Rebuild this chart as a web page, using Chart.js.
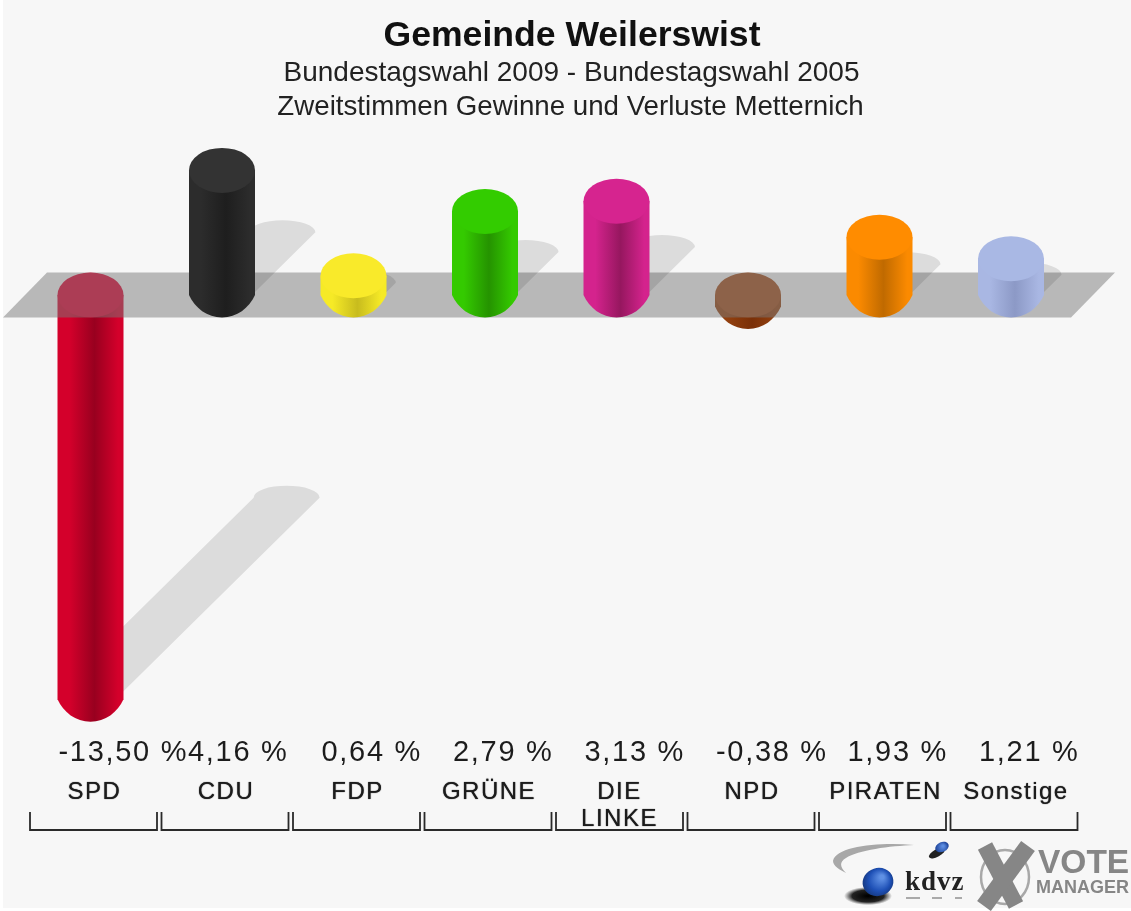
<!DOCTYPE html>
<html><head><meta charset="utf-8">
<style>html,body{margin:0;padding:0;background:#fff}#w{position:absolute;left:0;top:0;width:1131px;height:911px;filter:blur(0.6px)}canvas{display:block}</style>
<script src="https://cdn.jsdelivr.net/npm/chart.js@4/dist/chart.umd.min.js"></script>
</head><body><div id="w"><canvas id="c" width="1131" height="911"></canvas></div>
<script>
const categories=['SPD','CDU','FDP','GRÜNE','DIE LINKE','NPD','PIRATEN','Sonstige'];
const categoryLines=[['SPD'],['CDU'],['FDP'],['GRÜNE'],['DIE','LINKE'],['NPD'],['PIRATEN'],['Sonstige']];
const values=[-13.50,4.16,0.64,2.79,3.13,-0.38,1.93,1.21];
const valueLabels=['-13,50 %','4,16 %','0,64 %','2,79 %','3,13 %','-0,38 %','1,93 %','1,21 %'];
const bodyColors=['#d4002b','#2c2c2c','#f6ea26','#34ca00','#d4238d','#93400f','#fb8a00','#a9b7e3'];
const darkColors=['#98001f','#1e1e1e','#c8bc1e','#259300','#96175f','#7a3008','#c06a00','#8c99c6'];
const capColors=['#de0030','#333333','#f9ea2a','#33cc00','#d6248f','#a04a18','#ff8c00','#a9b8e4'];
const titleLines=['Gemeinde Weilerswist','Bundestagswahl 2009 - Bundestagswahl 2005','Zweitstimmen Gewinne und Verluste Metternich'];

const RY=22.5;
function txt(ctx,s,x,y,font,color,align,ls,heavy){
  ctx.save();
  ctx.font=font;ctx.fillStyle=color;ctx.textAlign=align;ctx.textBaseline='middle';
  ctx.letterSpacing=(ls||0)+'px';
  if(heavy){ctx.shadowColor=color;ctx.shadowBlur=heavy;}
  ctx.fillText(s,x,y);
  ctx.restore();
}
function bodyGrad(ctx,x,w,i){
  const g=ctx.createLinearGradient(x-w/2,0,x+w/2,0);
  g.addColorStop(0,bodyColors[i]);g.addColorStop(.18,bodyColors[i]);
  g.addColorStop(.56,darkColors[i]);g.addColorStop(.92,bodyColors[i]);g.addColorStop(1,bodyColors[i]);
  return g;
}
function body(ctx,x,w,top,bot,i){
  const r=w/2;
  ctx.beginPath();ctx.moveTo(x-r,top);ctx.lineTo(x-r,bot);
  ctx.bezierCurveTo(x-r*.82,bot+RY*.58,x-r*.45,bot+RY,x,bot+RY);
  ctx.bezierCurveTo(x+r*.45,bot+RY,x+r*.82,bot+RY*.58,x+r,bot);
  ctx.lineTo(x+r,top);ctx.closePath();
  ctx.fillStyle=bodyGrad(ctx,x,w,i);ctx.fill();
}
function cap(ctx,x,w,y,i){
  ctx.beginPath();ctx.ellipse(x,y,w/2,RY,0,0,Math.PI*2);ctx.fillStyle=capColors[i];ctx.fill();
}
function shadow(ctx,x,w,y0,h){
  const r=w/2,dx=h*.485,dy=-h*.479;
  ctx.beginPath();ctx.moveTo(x-r,y0);ctx.lineTo(x-r+dx,y0+dy);
  ctx.ellipse(x+dx,y0+dy,r,12,0,Math.PI,Math.PI*2,false);
  ctx.lineTo(x+r,y0);ctx.closePath();
  ctx.fillStyle='rgba(0,0,0,0.105)';ctx.fill();
}
function logos(ctx){
  ctx.beginPath();ctx.moveTo(914,845);ctx.bezierCurveTo(880,842,836,846,833,861);
  ctx.bezierCurveTo(833,866,840,870,846,873);ctx.bezierCurveTo(840,867,839,862,846,858);
  ctx.bezierCurveTo(858,850,890,846,914,845);ctx.fillStyle='#a8a8a8';ctx.fill();
  let g=ctx.createRadialGradient(0,0,1,0,0,24);
  ctx.save();ctx.translate(868,896);ctx.scale(1,.38);
  g.addColorStop(0,'#000');g.addColorStop(.65,'#222');g.addColorStop(1,'rgba(60,60,60,0)');
  ctx.fillStyle=g;ctx.beginPath();ctx.arc(0,0,24,0,7);ctx.fill();ctx.restore();
  g=ctx.createRadialGradient(882,877,2,878,882,17);
  g.addColorStop(0,'#5f90e4');g.addColorStop(.6,'#1e50b6');g.addColorStop(1,'#143476');
  ctx.fillStyle=g;ctx.beginPath();ctx.ellipse(878,882,15.5,14,-.3,0,7);ctx.fill();
  ctx.save();ctx.translate(937,853);ctx.rotate(-.5);ctx.scale(1,.42);
  ctx.fillStyle='#222';ctx.beginPath();ctx.arc(0,0,9,0,7);ctx.fill();ctx.restore();
  g=ctx.createRadialGradient(943,846,1,942,848,7);
  g.addColorStop(0,'#5c8ce0');g.addColorStop(1,'#1a3f96');
  ctx.fillStyle=g;ctx.beginPath();ctx.ellipse(942,847,7,5,-.4,0,7);ctx.fill();
  txt(ctx,'kdvz',905,883,'bold 27px "Liberation Serif"','#222','left',1);
  ctx.fillStyle='#aaa';[[906,14],[932,10],[955,7]].forEach(p=>ctx.fillRect(p[0],897,p[1],2));
  ctx.strokeStyle='#a8a8a8';ctx.lineWidth=2.5;
  ctx.beginPath();ctx.ellipse(1005,877,24,27,0,0,7);ctx.stroke();
  ctx.strokeStyle='#868686';ctx.lineWidth=16;ctx.lineCap='butt';
  ctx.beginPath();ctx.moveTo(985,846);ctx.lineTo(1016,905);ctx.stroke();
  ctx.lineWidth=17;ctx.beginPath();ctx.moveTo(1028,846);ctx.lineTo(984,906);ctx.stroke();
  txt(ctx,'VOTE',1038,864,'bold 33.5px "Liberation Sans"','#868686','left',0);
  txt(ctx,'MANAGER',1036,888,'bold 18px "Liberation Sans"','#868686','left',0);
}
const painter={
  id:'painter',
  beforeDraw(chart){
    const ctx=chart.ctx;
    ctx.fillStyle='#f7f7f7';ctx.fillRect(3,0,1128,908);
  },
  beforeDatasetsDraw(chart){
    const ctx=chart.ctx,els=chart.getDatasetMeta(0).data;
    const yz=chart.scales.y.getPixelForValue(0);
    ctx.save();
    els.forEach((e,i)=>{ const h=Math.abs(e.y-e.base);
      if(values[i]<0&&h>40) shadow(ctx,e.x,e.width,e.y-8,h);});
    els.forEach((e,i)=>{ if(values[i]>=0)return;
      body(ctx,e.x,e.width,e.base,e.y,i); cap(ctx,e.x,e.width,e.base,i);});
    const top=yz-RY,bot=yz+RY;
    ctx.beginPath();ctx.moveTo(47,top);ctx.lineTo(1115,top);ctx.lineTo(1071,bot);ctx.lineTo(3,bot);ctx.closePath();
    ctx.fillStyle='rgba(122,122,122,0.5)';ctx.fill();
    els.forEach((e,i)=>{ const h=Math.abs(e.y-e.base);
      if(values[i]>=0) shadow(ctx,e.x,e.width,e.base-3,h);});
    els.forEach((e,i)=>{ if(values[i]<0)return;
      body(ctx,e.x,e.width,e.y,e.base,i); cap(ctx,e.x,e.width,e.y,i);});
    ctx.restore();
    return false;
  },
  afterDraw(chart){
    const ctx=chart.ctx,sx=chart.scales.x,els=chart.getDatasetMeta(0).data;
    ctx.save();
    txt(ctx,titleLines[0],572,36,'bold 35.6px "Liberation Sans"','#111','center',0);
    txt(ctx,titleLines[1],571.5,73,'28px "Liberation Sans"','#222','center',0);
    txt(ctx,titleLines[2],570.5,107,'27.7px "Liberation Sans"','#222','center',0);
    categories.forEach((c,i)=>{
      const x=sx.getPixelForValue(i),e=els[i],cb=x+3;
      txt(ctx,valueLabels[i],e.x-e.width/2+(i==1?-1:1),752.5,'29px "Liberation Sans"','#1c1c1c','left',1.7);
      categoryLines[i].forEach((l,k)=>{
        txt(ctx,l,cb+(i==7?2:i==6?3:i==4?0:1),792.5+k*27,'24px "Liberation Sans"','#1c1c1c','center',1.5,1);
      });
      ctx.strokeStyle='#2a2a2a';ctx.lineWidth=1.8;
      ctx.beginPath();ctx.moveTo(cb-63.5,812);ctx.lineTo(cb-63.5,830);ctx.lineTo(cb+63.5,830);ctx.lineTo(cb+63.5,812);ctx.stroke();
    });
    logos(ctx);
    ctx.restore();
  }
};
new Chart(document.getElementById('c'),{
  type:'bar',
  data:{labels:categories,datasets:[{data:values,backgroundColor:bodyColors,barPercentage:66/131.5,categoryPercentage:1,borderWidth:0}]},
  plugins:[painter],
  options:{
    responsive:false,animation:false,devicePixelRatio:1,
    layout:{padding:{left:24.75,right:1131-1076.75,top:145.25,bottom:181.7}},
    plugins:{legend:{display:false},title:{display:false},tooltip:{enabled:false}},
    scales:{
      x:{display:false,offset:true},
      y:{display:false,min:-14.5,max:5}
    }
  }
});
</script></body></html>
